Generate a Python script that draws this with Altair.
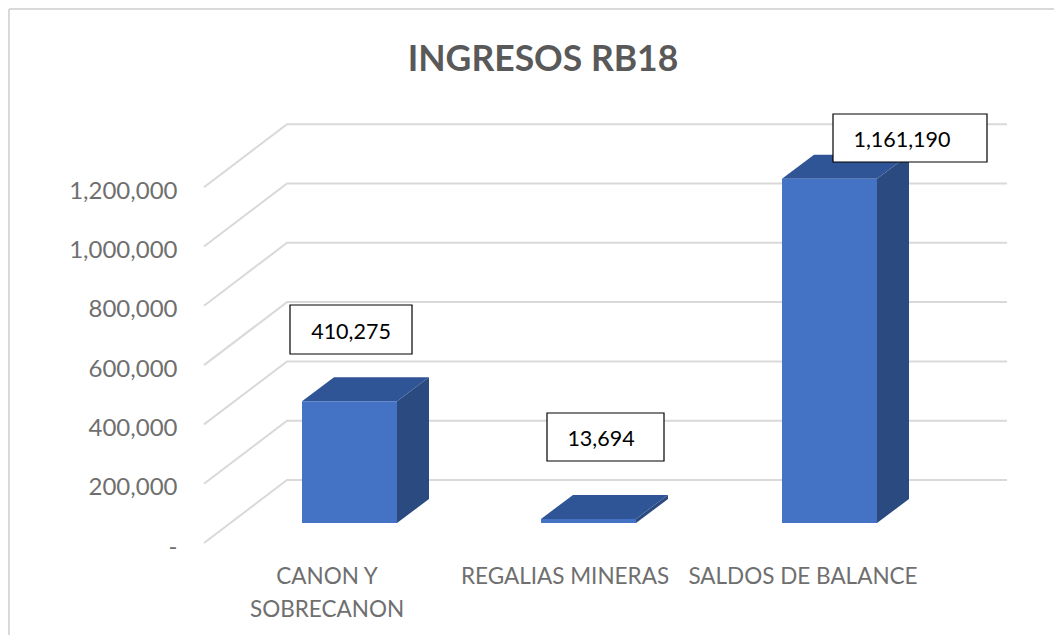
import altair as alt
import pandas as pd

categories = ["CANON Y\nSOBRECANON", "REGALIAS MINERAS", "SALDOS DE BALANCE"]
values = [410275, 13694, 1161190]
value_labels = ["410,275", "13,694", "1,161,190"]
ticks = [0, 200000, 400000, 600000, 800000, 1000000, 1200000]
chart_title = "INGRESOS RB18"

FONT = "Lato"
W, H = 1046, 627
PX_PER_UNIT = 59.3 / 200000
ZERO_Y = 543


def vy(py):
    return (ZERO_Y - py) / PX_PER_UNIT


def span(px):
    return px / PX_PER_UNIT


# layout
bar_left = [302, 541, 782]
bar_w = 95
bar_dx, bar_dy = 32, 24
base_lift = 20
grid_dx, grid_dy = 83, 63
grid_x0, grid_xr = 204, 1007
box_x = [(290, 412), (547, 664), (833, 987)]
box_y = [(305, 354), (413, 461), (114, 162)]
box_text_x = [351, 601, 902]
cat_x = [327, 565, 803]
cat_y = [577, 577, 577]

xs = alt.Scale(domain=[8, 8 + W], nice=False, zero=False)
ys = alt.Scale(domain=[vy(8 + H), vy(8)], nice=False, zero=False)
X = lambda f: alt.X(f, type="quantitative", scale=xs, axis=None)
Y = lambda f: alt.Y(f, type="quantitative", scale=ys, title=None)

grid_rows = []
for t in ticks:
    grid_rows += [
        {"t": t, "i": 0, "x": grid_x0, "y": t},
        {"t": t, "i": 1, "x": grid_x0 + grid_dx, "y": t + span(grid_dy)},
        {"t": t, "i": 2, "x": grid_xr, "y": t + span(grid_dy)},
    ]
grid = (
    alt.Chart(pd.DataFrame(grid_rows))
    .mark_line(color="#d9d9d9", strokeWidth=2)
    .encode(
        x=X("x"),
        y=alt.Y(
            "y:Q",
            scale=ys,
            title=None,
            axis=alt.Axis(
                values=ticks,
                labelExpr="datum.value === 0 ? '-' : format(datum.value, ',')",
                domain=False,
                ticks=False,
                grid=False,
                offset=-169,
                labelPadding=0,
                labelFont=FONT,
                labelFontSize=24,
                labelColor="#6f6f6f",
                labelOffset=4,
            ),
        ),
        detail="t:N",
        order="i:Q",
    )
)

base = span(base_lift)
front_rows, side_rows, top_rows = [], [], []
for i, v in enumerate(values):
    l, r = bar_left[i], bar_left[i] + bar_w
    b, t = base, base + v
    d = span(bar_dy)
    front_rows.append({"x": l, "x2": r, "y": b, "y2": t})
    side_rows += [
        {"k": i, "x": r, "y": b, "y2": t},
        {"k": i, "x": r + bar_dx, "y": b + d, "y2": t + d},
    ]
    top_rows += [
        {"k": i, "y": t, "x": l, "x2": r},
        {"k": i, "y": t + d, "x": l + bar_dx, "x2": r + bar_dx},
    ]

side = (
    alt.Chart(pd.DataFrame(side_rows))
    .mark_area(color="#2a4a80")
    .encode(x=X("x"), y=Y("y"), y2="y2:Q", detail="k:N")
)
top = (
    alt.Chart(pd.DataFrame(top_rows))
    .mark_area(color="#2f5597", orient="horizontal")
    .encode(y=Y("y"), x=X("x"), x2="x2:Q", detail="k:N")
)
front = (
    alt.Chart(pd.DataFrame(front_rows))
    .mark_rect(color="#4472c4")
    .encode(x=X("x"), x2="x2:Q", y=Y("y"), y2="y2:Q")
)

boxes = pd.DataFrame(
    {
        "x": [b[0] for b in box_x],
        "x2": [b[1] for b in box_x],
        "y": [vy(b[1]) for b in box_y],
        "y2": [vy(b[0]) for b in box_y],
        "tx": box_text_x,
        "ty": [vy((b[0] + b[1]) / 2 + 3) for b in box_y],
        "label": value_labels,
    }
)
box = (
    alt.Chart(boxes)
    .mark_rect(fill="white", stroke="black", strokeWidth=1.2)
    .encode(x=X("x"), x2="x2:Q", y=Y("y"), y2="y2:Q")
)
box_text = (
    alt.Chart(boxes)
    .mark_text(font=FONT, fontSize=21.5, color="black", baseline="middle", align="center")
    .encode(x=X("tx"), y=Y("ty"), text="label:N")
)

cat_df = pd.DataFrame(
    {"x": cat_x, "y": [vy(p) for p in cat_y], "label": categories}
)
cat_text = (
    alt.Chart(cat_df)
    .mark_text(
        font=FONT,
        fontSize=22.5,
        color="#6f6f6f",
        align="center",
        baseline="middle",
        lineBreak="\n",
        lineHeight=33,
    )
    .encode(x=X("x"), y=Y("y"), text="label:N")
)

title_df = pd.DataFrame({"x": [543], "y": [vy(60)], "label": [chart_title]})
title = (
    alt.Chart(title_df)
    .mark_text(font=FONT, fontSize=35.5, fontWeight="bold", color="#595959", align="center", baseline="middle")
    .encode(x=X("x"), y=Y("y"), text="label:N")
)

frame_left = alt.Chart(pd.DataFrame({"a": [0]})).mark_rule(color="#d9d9d9", strokeWidth=2).encode(
    x=alt.value(1), y=alt.value(1), y2=alt.value(H)
)
frame_top = alt.Chart(pd.DataFrame({"a": [0]})).mark_rule(color="#d9d9d9", strokeWidth=2).encode(
    y=alt.value(1), x=alt.value(1), x2=alt.value(W)
)

chart = (
    alt.layer(grid, frame_left, frame_top, side, top, front, box, box_text, cat_text, title)
    .properties(
        width=W,
        height=H,
        padding=0,
        autosize=alt.AutoSizeParams(type="none"),
        background="white",
    )
    .configure_view(stroke=None)
)

chart.save("out.html", embed_options={"renderer": "svg", "actions": False})
